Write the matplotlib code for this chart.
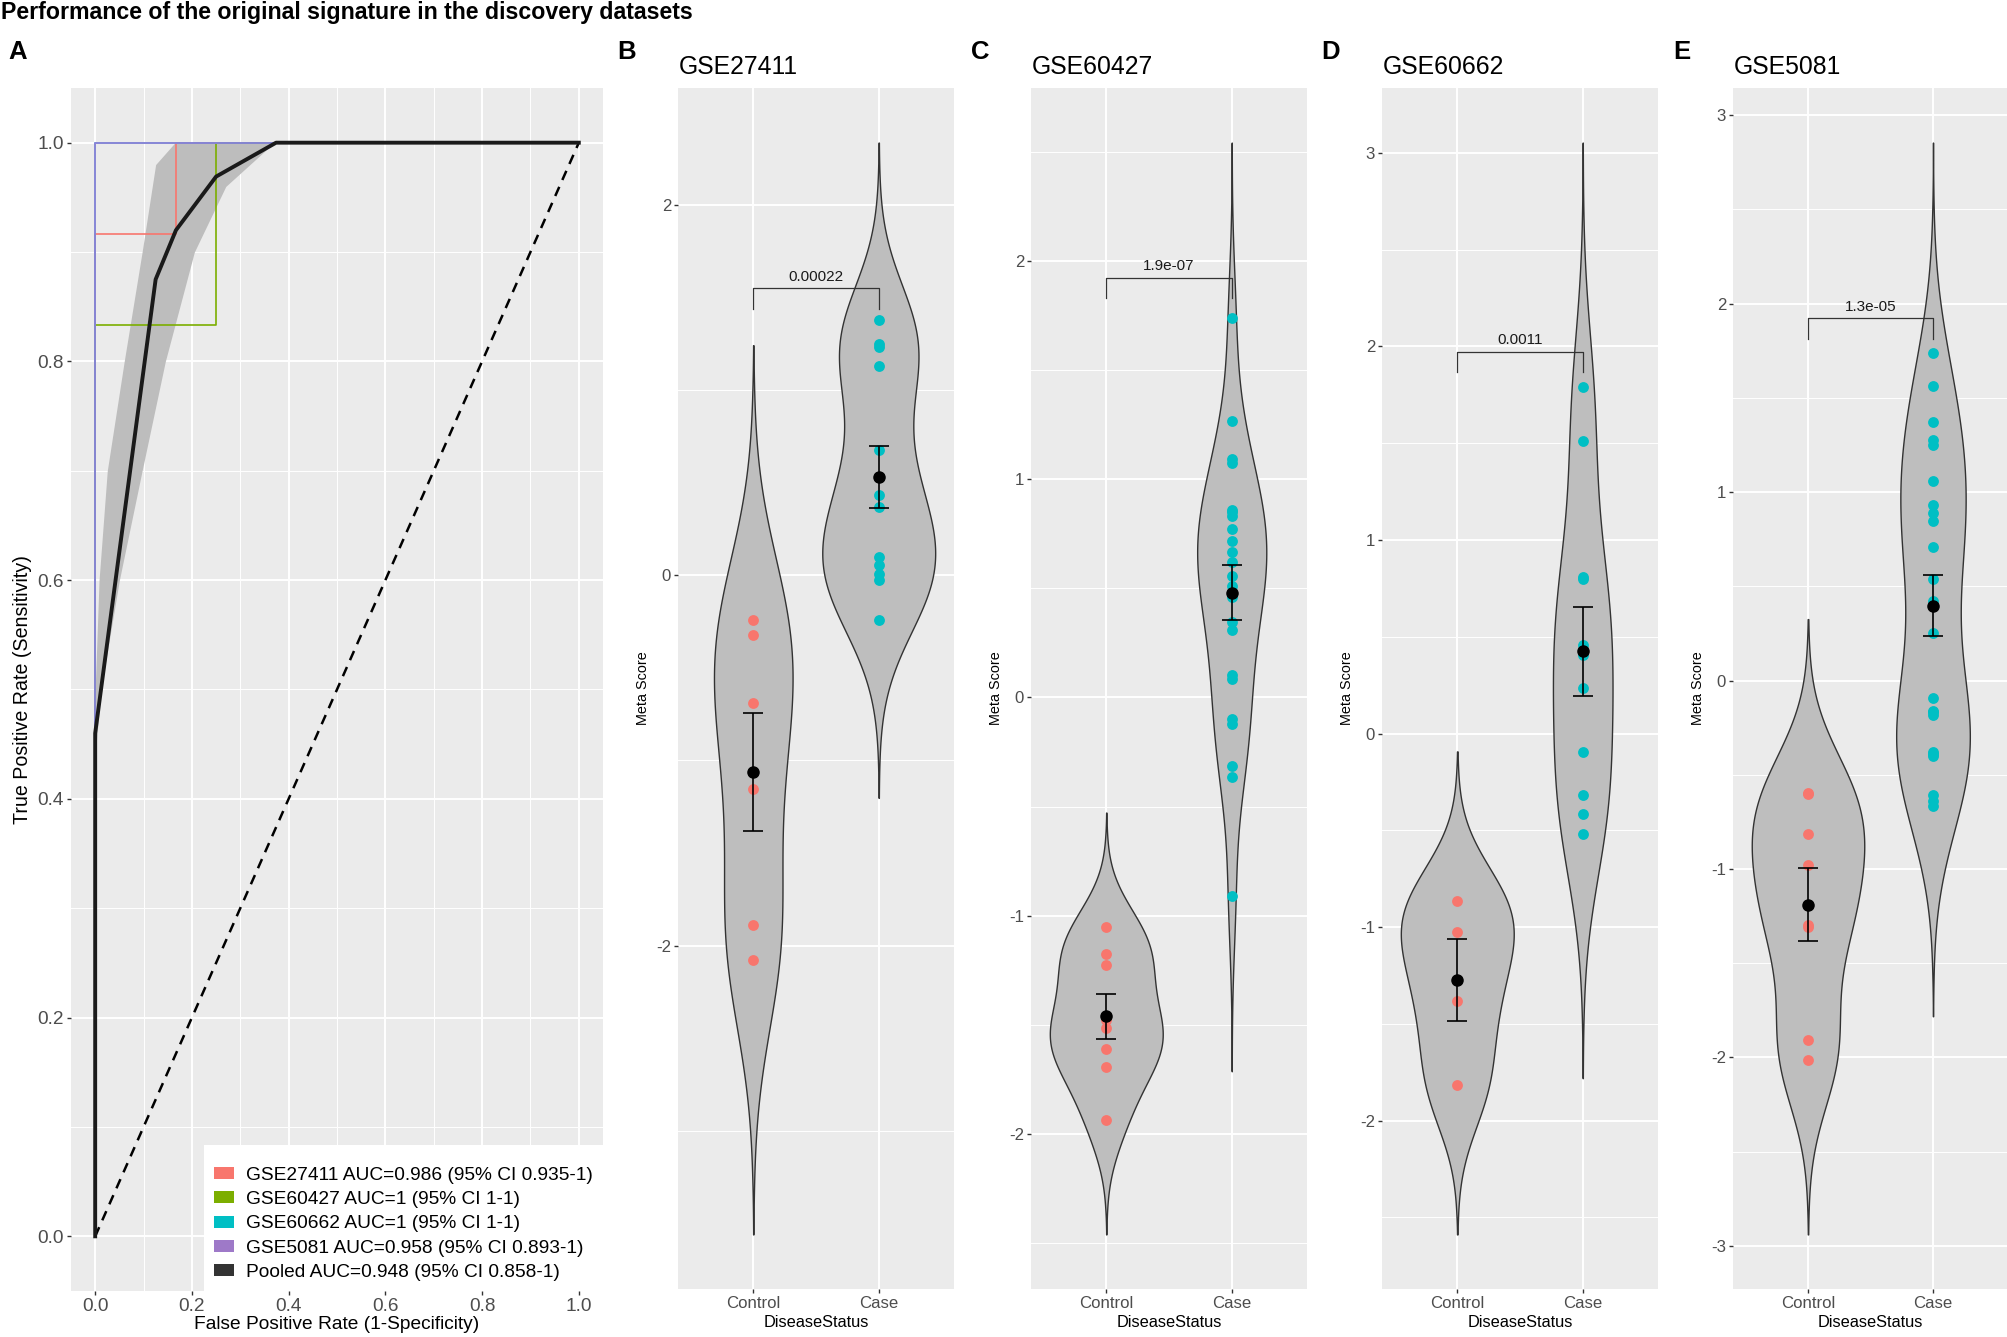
import numpy as np
import matplotlib
matplotlib.use("Agg")
import matplotlib.pyplot as plt
from matplotlib.font_manager import FontProperties
from matplotlib.textpath import TextPath
from matplotlib.patches import Patch
from matplotlib.ticker import MultipleLocator

W, H = 2008, 1337

plt.rcParams['font.family'] = ['Liberation Sans', 'DejaVu Sans']

# ---------------- panel A: ROC curves ----------------
roc_names = ['GSE27411', 'GSE60427', 'GSE60662', 'GSE5081']
roc_colors = ['#F8766D', '#7CAE00', '#00BFC4', '#9B7BD8']
roc_fpr = [[0, 0, 1/6, 1/6, 1], [0, 0, 0.25, 0.25, 1], [0, 0, 1], [0, 0, 1]]
roc_tpr = [[0, 11/12, 11/12, 1, 1], [0, 5/6, 5/6, 1, 1], [0, 1, 1], [0, 1, 1]]

pooled_fpr = [0, 0, 0.125, 0.167, 0.25, 0.374, 1.0]
pooled_tpr = [0, 0.46, 0.875, 0.92, 0.969, 1.0, 1.0]

band_tpr = [0.44, 0.5, 0.6, 0.7, 0.8, 0.9, 0.96, 0.98, 1.0]
band_fpr_lo = [0, 0, 0.008, 0.025, 0.06, 0.097, 0.118, 0.125, 0.165]
band_fpr_hi = [0, 0.012, 0.05, 0.097, 0.145, 0.205, 0.27, 0.32, 0.37]

legend_labels = ['GSE27411 AUC=0.986 (95% CI 0.935-1)',
                 'GSE60427 AUC=1 (95% CI 1-1)',
                 'GSE60662 AUC=1 (95% CI 1-1)',
                 'GSE5081 AUC=0.958 (95% CI 0.893-1)',
                 'Pooled AUC=0.948 (95% CI 0.858-1)']
legend_colors = ['#F8766D', '#7CAE00', '#00BFC4', '#9E79C8', '#333333']

# ---------------- panels B-E: meta scores ----------------
datasets = ['GSE27411', 'GSE60427', 'GSE60662', 'GSE5081']
groups = ['Control', 'Case']
control_scores = [
    [-0.24, -0.324, -0.691, -1.152, -1.891, -2.078],
    [-1.052, -1.175, -1.225, -1.477, -1.513, -1.612, -1.692, -1.934],
    [-0.863, -1.027, -1.382, -1.817],
    [-0.598, -0.603, -0.817, -0.98, -1.296, -1.308, -1.91, -2.016],
]
case_scores = [
    [1.378, 1.247, 1.235, 1.131, 0.676, 0.432, 0.367, 0.101, 0.053, 0.005, -0.027, -0.244],
    [1.739, 1.266, 1.09, 1.075, 0.86, 0.85, 0.83, 0.77, 0.715, 0.665, 0.62, 0.555, 0.51,
     0.46, 0.345, 0.31, 0.105, 0.085, -0.10, -0.12, -0.315, -0.365, -0.91],
    [1.79, 1.513, 0.811, 0.80, 0.458, 0.408, 0.237, -0.096, -0.319, -0.417, -0.517],
    [1.738, 1.563, 1.372, 1.277, 1.249, 1.059, 0.929, 0.887, 0.848, 0.706, 0.541, 0.423,
     0.25, -0.095, -0.162, -0.165, -0.185, -0.38, -0.39, -0.403, -0.607, -0.642, -0.665],
]
p_values = ['0.00022', '1.9e-07', '0.0011', '1.3e-05']
bracket_y = [1.549, 1.921, 1.973, 1.922]
tick_steps = [2, 1, 1, 1]
panel_letters = ['B', 'C', 'D', 'E']

group_colors = ['#F8766D', '#00BFC4']
BG = '#EBEBEB'
TICKC = '#4D4D4D'


def fitted(fp, s, target_px):
    # font size (pt) that makes string s about target_px wide at 100 dpi
    w = TextPath((0, 0), s, size=100, prop=fp).get_extents().width
    f = fp.copy()
    f.set_size(target_px * 72 / w)
    return f


regular = FontProperties(family='Liberation Sans')
bold = FontProperties(family='Liberation Sans', weight='bold')

fp_title = fitted(bold, 'Performance of the original signature in the discovery datasets', 690)
fp_legend = fitted(regular, legend_labels[0], 346)
fp_Atick = fitted(regular, '0.0', 25)
fp_Axlab = fitted(regular, 'False Positive Rate (1-Specificity)', 283)
fp_Aylab = fitted(regular, 'True Positive Rate (Sensitivity)', 266)
fp_meta = fitted(regular, 'Meta Score', 72)
fp_gse = fitted(regular, 'GSE27411', 117)
fp_vtick = fitted(regular, 'Control', 52)
fp_vxlab = fitted(regular, 'DiseaseStatus', 104)
fp_p = fitted(regular, '0.00022', 54)
fp_letter = bold.copy()
fp_letter.set_size(18.5)


def rect(l, t, r, b):
    return [l / W, 1 - b / H, (r - l) / W, (b - t) / H]


def gg_axes(ax):
    ax.set_facecolor(BG)
    for s in ax.spines.values():
        s.set_visible(False)
    ax.grid(which='major', color='white', lw=1.4, zorder=0)
    ax.grid(which='minor', color='white', lw=0.7, zorder=0)
    ax.set_axisbelow(True)
    ax.tick_params(which='major', length=3, width=1, color='#333333', pad=2)
    ax.tick_params(which='minor', length=0)


def nrd0(x):
    sd = np.std(x, ddof=1)
    q75, q25 = np.percentile(x, [75, 25])
    return 0.9 * min(sd, (q75 - q25) / 1.34) * len(x) ** (-0.2)


def kde(x):
    x = np.asarray(x, dtype=float)
    bw = nrd0(x)
    grid = np.linspace(x.min() - 3 * bw, x.max() + 3 * bw, 512)
    d = np.exp(-0.5 * ((grid[:, None] - x[None, :]) / bw) ** 2).sum(1)
    d /= len(x) * bw * np.sqrt(2 * np.pi)
    return grid, d


fig = plt.figure(figsize=(W / 100, H / 100), dpi=100)
fig.patch.set_facecolor('white')

fig.text(1 / W, 1 - 12 / H, 'Performance of the original signature in the discovery datasets',
         fontproperties=fp_title, ha='left', va='center')

# ----- panel A -----
axA = fig.add_axes(rect(71, 88, 603, 1291))
gg_axes(axA)
ticks = np.arange(0, 1.01, 0.2)
axA.set_xticks(ticks)
axA.set_yticks(ticks)
axA.xaxis.set_minor_locator(MultipleLocator(0.1))
axA.yaxis.set_minor_locator(MultipleLocator(0.1))
axA.set_xticklabels([f'{t:.1f}' for t in ticks], fontproperties=fp_Atick, color=TICKC)
axA.set_yticklabels([f'{t:.1f}' for t in ticks], fontproperties=fp_Atick, color=TICKC)
axA.set_xlim(-0.05, 1.05)
axA.set_ylim(-0.05, 1.05)

axA.fill_betweenx(band_tpr, band_fpr_lo, band_fpr_hi, color='#BDBDBD', lw=0, zorder=1)
for fx, ty, c in zip(roc_fpr, roc_tpr, roc_colors):
    axA.plot(fx, ty, color=c, lw=1.2, zorder=2)
axA.plot([0, 1], [0, 1], color='black', lw=1.8, ls=(0, (4, 3)), zorder=3)
axA.plot(pooled_fpr, pooled_tpr, color='#1A1A1A', lw=2.8, zorder=4, solid_joinstyle='round')

axA.set_xlabel('False Positive Rate (1-Specificity)', fontproperties=fp_Axlab, labelpad=1)
axA.set_ylabel('True Positive Rate (Sensitivity)', fontproperties=fp_Aylab, labelpad=4)

S = fp_legend.get_size() * 100 / 72
handles = [Patch(facecolor=c, edgecolor='none') for c in legend_colors]
leg = axA.legend(handles, legend_labels, loc='lower right', bbox_to_anchor=(1, 0),
                 borderaxespad=0, frameon=True, fancybox=False, handlelength=20 / S,
                 handleheight=11 / S, handletextpad=12 / S, labelspacing=0.38,
                 borderpad=10 / S, prop=fp_legend, title=' ', title_fontsize=4)
leg.get_frame().set_facecolor('white')
leg.get_frame().set_edgecolor('none')
leg.get_frame().set_alpha(1)

fig.text(18 / W, 1 - 52 / H, 'A', fontproperties=fp_letter, ha='center', va='center')

# ----- panels B-E -----
lefts = [678, 1031, 1382, 1733]
for i in range(4):
    l = lefts[i]
    ax = fig.add_axes(rect(l, 88, min(l + 276, W), 1289))
    gg_axes(ax)
    ax.set_xlim(0.4, 2.6)
    sets = [np.array(control_scores[i]), np.array(case_scores[i])]
    dens = [kde(s) for s in sets]
    dmax = max(d.max() for _, d in dens)
    lo = min(g.min() for g, _ in dens)
    hi = max(g.max() for g, _ in dens)
    span = hi - lo
    ylim = (lo - 0.05 * span, hi + 0.05 * span)
    for k, ((grid, d), vals) in enumerate(zip(dens, sets)):
        pos = k + 1
        half = d / dmax * 0.45
        ax.fill_betweenx(grid, pos - half, pos + half, facecolor='#BEBEBE',
                         edgecolor='#333333', lw=1.0, zorder=2)
        ax.plot(np.full(len(vals), pos), vals, 'o', color=group_colors[k], ms=7.8, mec='none', zorder=3)
        m = vals.mean()
        se = vals.std(ddof=1) / np.sqrt(len(vals))
        ax.errorbar([pos], [m], yerr=[se], fmt='o', color='black', ms=8, lw=1.2,
                    capsize=7.5, capthick=1.2, zorder=4)
    # significance bracket
    tip = 0.017 * (ylim[1] - ylim[0])
    by = bracket_y[i]
    ax.plot([1, 1, 2, 2], [by - tip, by, by, by - tip], color='#333333', lw=0.9, zorder=5)
    ax.annotate(p_values[i], (1.5, by), xytext=(0, 3.5), textcoords='offset points',
                ha='center', va='bottom', fontproperties=fp_p, color='#1A1A1A')

    ax.set_xticks([1, 2])
    ax.set_xticklabels(groups, fontproperties=fp_vtick, color=TICKC)
    step = tick_steps[i]
    yt = np.arange(np.ceil(ylim[0] / step) * step, ylim[1], step)
    ax.set_yticks(yt)
    ax.set_yticklabels([f'{int(round(t))}' for t in yt], fontproperties=fp_vtick, color=TICKC)
    ax.yaxis.set_minor_locator(MultipleLocator(step / 2))
    ax.xaxis.set_minor_locator(plt.NullLocator())
    ax.set_ylim(*ylim)
    ax.set_xlabel('DiseaseStatus', fontproperties=fp_vxlab, labelpad=3)
    ax.set_ylabel('Meta Score', fontproperties=fp_meta)
    ax.yaxis.set_label_coords(-0.1, 0.5)

    fig.text((l + 1) / W, 1 - 67 / H, datasets[i], fontproperties=fp_gse, ha='left', va='center')
    fig.text((l - 51) / W, 1 - 52 / H, panel_letters[i], fontproperties=fp_letter,
             ha='center', va='center')

fig.savefig('out.png', dpi=100)
